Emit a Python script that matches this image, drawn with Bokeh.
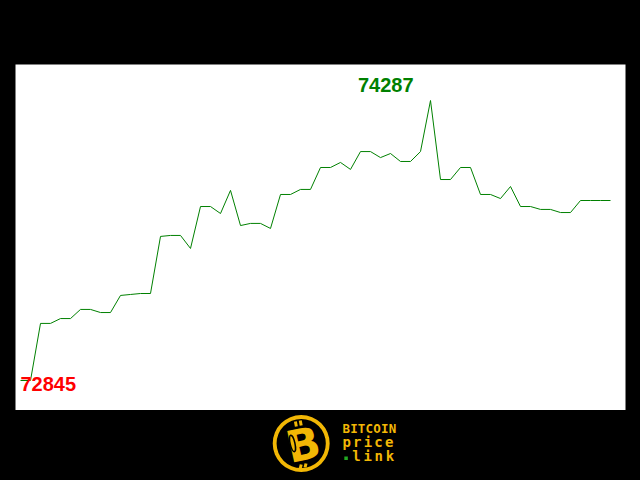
import numpy as np
from bokeh.plotting import figure
from bokeh.layouts import column
from bokeh.models import Range1d
from bokeh.core.properties import value
from bokeh.embed import file_html
from bokeh.resources import INLINE

# ---- data ----
prices = [
    72845, 72845, 73139, 73139, 73164, 73164, 73211, 73211, 73195, 73195,
    73283, 73288, 73293, 73293, 73587, 73592, 73592, 73525, 73741, 73741,
    73705, 73824, 73643, 73654, 73654, 73628, 73803, 73803, 73829, 73829,
    73942, 73942, 73968, 73932, 74024, 74024, 73993, 74014, 73973, 73973,
    74024, 74287, 73880, 73880, 73942, 73942, 73803, 73803, 73782, 73844,
    73741, 73741, 73726, 73726, 73710, 73710, 73772, 73772, 73772, 73772,
]
idx = list(range(len(prices)))
logo_lines = ["BITCOIN", "price", "link"]

GREEN = "#008000"
RED = "#ff0000"
GOLD = "#f2b705"

p = figure(width=632, height=410, output_backend="svg", toolbar_location=None,
           x_range=Range1d(-0.5, 60.5), y_range=Range1d(72690.5, 74472.4),
           min_border_left=15, min_border_right=7, min_border_top=64, min_border_bottom=0,
           background_fill_color="white", border_fill_color="black",
           outline_line_color=None)
p.axis.visible = False
p.grid.visible = False

p.line(idx, prices, line_color=GREEN, line_width=1)

imax = int(np.argmax(prices))
imin = int(np.argmin(prices))
p.text(x=[imax], y=[prices[imax]], text=[str(prices[imax])],
       text_color=GREEN, text_font=value("Liberation Sans"), text_font_style="bold",
       text_font_size="20px", text_align="right", text_baseline="alphabetic",
       x_offset=-17, y_offset=-16)
p.text(x=[imin], y=[prices[imin]], text=[str(prices[imin])],
       text_color=RED, text_font=value("Liberation Sans"), text_font_style="bold",
       text_font_size="20px", text_align="left", text_baseline="alphabetic",
       x_offset=0, y_offset=3)

# ---- logo strip ----
dx = -3
lg = figure(width=632, height=62, output_backend="svg", toolbar_location=None,
            x_range=Range1d(0, 632), y_range=Range1d(0, 62),
            min_border=0, background_fill_color="black", border_fill_color="black",
            outline_line_color=None)
lg.axis.visible = False
lg.grid.visible = False
lg.annulus(x=[299 + dx], y=[29], inner_radius=25.5, outer_radius=29.5,
           fill_color=GOLD, line_color=None)
lg.text(x=[301 + dx], y=[28], text=["B"], text_color=GOLD, text_font=value("DejaVu Sans"),
        text_font_style="bold", text_font_size="44px", text_align="center",
        text_baseline="middle", angle=0.22)
# bitcoin strokes above and below the B
lg.segment(x0=[294 + dx, 299 + dx, 299 + dx, 304 + dx], y0=[46, 47, 8, 9],
           x1=[293 + dx, 298 + dx, 298 + dx, 303 + dx], y1=[51, 52, 4, 5],
           line_color=GOLD, line_width=3)
# chain-link in the stem
lg.ellipse(x=[290 + dx], y=[29], width=5, height=17, angle=0.22,
           fill_color=None, line_color="black", line_width=1.5)

xs_b = [341.7 + dx + 8 * k for k in range(len(logo_lines[0]))]
xs_p = [341.7 + dx + 11 * k for k in range(len(logo_lines[1]))]
xs_l = [352 + dx + 11.5 * k for k in range(len(logo_lines[2]))]
lg.text(x=xs_b, y=[44.3] * len(xs_b), text=list(logo_lines[0]),
        text_color=GOLD, text_font=value("DejaVu Sans Mono"), text_font_style="bold",
        text_font_size="12.5px", text_align="left", text_baseline="alphabetic")
lg.text(x=xs_p, y=[30.8] * len(xs_p), text=list(logo_lines[1]),
        text_color=GOLD, text_font=value("DejaVu Sans Mono"), text_font_style="bold",
        text_font_size="14px", text_align="left", text_baseline="alphabetic")
lg.text(x=xs_l, y=[16.8] * len(xs_l), text=list(logo_lines[2]),
        text_color=GOLD, text_font=value("DejaVu Sans Mono"), text_font_style="bold",
        text_font_size="14px", text_align="left", text_baseline="alphabetic")
lg.scatter(x=[345.5 + dx], y=[14.3], size=3.5, marker="square", fill_color="#22aa22", line_color=None)

layout = column(p, lg, spacing=0)
html = file_html(layout, INLINE)
html = html.replace("<head>", "<head><style>html,body{background:#000;}</style>", 1)
open("out.html", "w").write(html)
